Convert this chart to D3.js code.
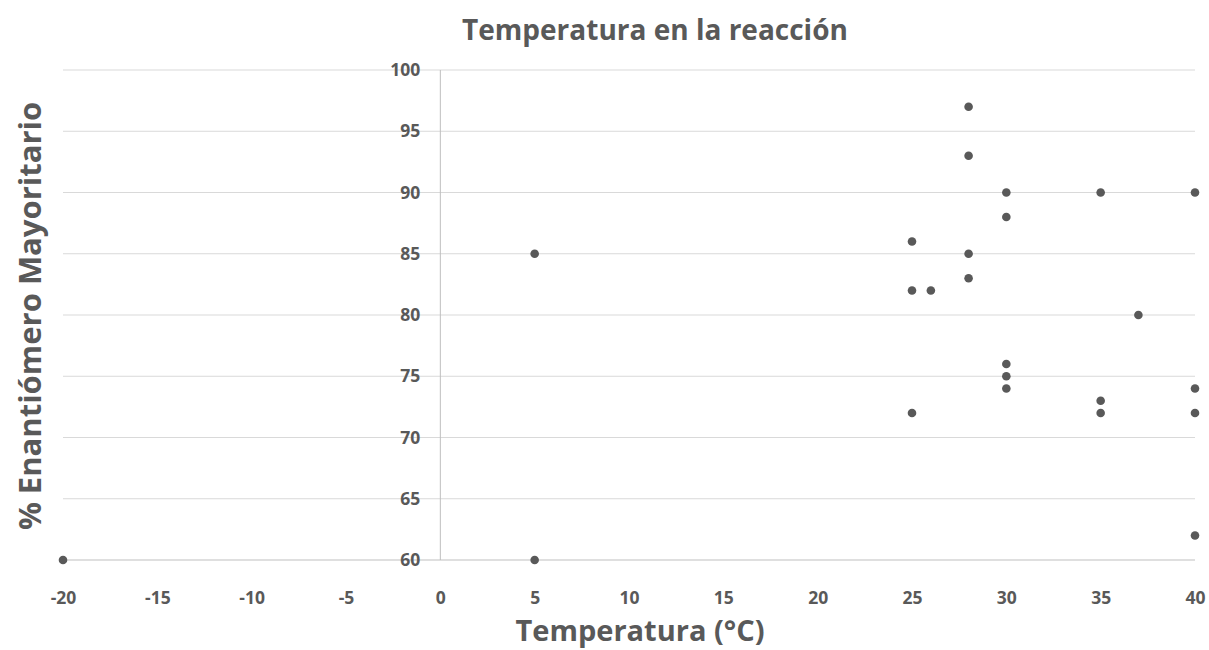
<!DOCTYPE html>
<html><head><meta charset="utf-8">
<script src="https://cdn.jsdelivr.net/npm/d3@7"></script>
<style>
body{margin:0;background:#fff;}
text{font-family:"Open Sans","Liberation Sans",sans-serif;}
</style></head>
<body><svg id="c" width="1209" height="650"></svg>
<script>
const temperatures = [-20, 5, 5, 25, 25, 26, 25, 28, 28, 28, 28, 30, 30, 30, 30, 30, 35, 35, 35, 37, 40, 40, 40, 40];
const enantiomer  = [60, 85, 60, 86, 82, 82, 72, 97, 93, 85, 83, 90, 88, 76, 75, 74, 90, 73, 72, 80, 90, 74, 72, 62];
const xTicks = [-20, -15, -10, -5, 0, 5, 10, 15, 20, 25, 30, 35, 40];
const yTicks = [60, 65, 70, 75, 80, 85, 90, 95, 100];
const title = "Temperatura en la reacción";
const xTitle = "Temperatura (°C)";
const yTitle = "% Enantiómero Mayoritario";

const svg = d3.select("#c");
const x = d3.scaleLinear().domain([-20, 40]).range([63, 1195]);
const y = d3.scaleLinear().domain([60, 100]).range([560, 70]);
const txt = "#595959";

// gridlines
svg.append("g").selectAll("line").data(yTicks).join("line")
  .attr("x1", x(-20)).attr("x2", x(40))
  .attr("y1", d => y(d)).attr("y2", d => y(d))
  .attr("stroke", d => d === 60 ? "#bfbfbf" : "#d9d9d9").attr("stroke-width", 1);

// y axis line at x=0
svg.append("line").attr("x1", x(0)).attr("x2", x(0)).attr("y1", y(100)).attr("y2", y(60))
  .attr("stroke", "#bfbfbf").attr("stroke-width", 1);

// y tick labels
const yAxis = d3.axisLeft(y).tickValues(yTicks).tickSize(0).tickPadding(0).tickFormat(d => String(d));
const gy = svg.append("g").attr("transform", `translate(${x(0) - 20},0)`).call(yAxis);
gy.select(".domain").remove();
gy.selectAll("text").attr("fill", txt).attr("font-size", 17.5).attr("font-weight", "bold")
  .attr("font-family", "'Open Sans',sans-serif");

// x tick labels
const xAxis = d3.axisBottom(x).tickValues(xTicks).tickSize(0).tickPadding(0).tickFormat(d => String(d));
const gx = svg.append("g").attr("transform", `translate(0,${y(60) + 44})`).call(xAxis);
gx.select(".domain").remove();
gx.selectAll("text").attr("fill", txt).attr("font-size", 17.5).attr("font-weight", "bold")
  .attr("font-family", "'Open Sans',sans-serif").attr("dy", "0").attr("y", 0);

// points
const pts = temperatures.map((t, i) => ({t, e: enantiomer[i]}));
svg.append("g").selectAll("circle").data(pts).join("circle")
  .attr("cx", d => x(d.t)).attr("cy", d => y(d.e)).attr("r", 4.3).attr("fill", "#595959");

// titles
svg.append("text").attr("x", 655).attr("y", 40).attr("text-anchor", "middle")
  .attr("fill", txt).attr("font-size", 28).attr("font-weight", "bold").text(title);
svg.append("text").attr("x", 640).attr("y", 641).attr("text-anchor", "middle")
  .attr("fill", txt).attr("font-size", 29).attr("font-weight", "bold").text(xTitle);
svg.append("text").attr("transform", `translate(41,316) rotate(-90)`).attr("text-anchor", "middle")
  .attr("fill", txt).attr("font-size", 31).attr("font-weight", "bold").text(yTitle);
</script></body></html>
